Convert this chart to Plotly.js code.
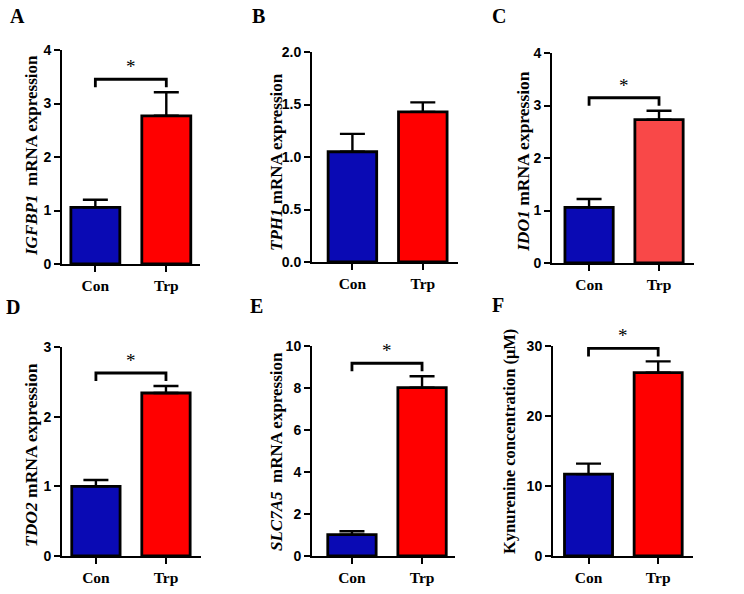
<!DOCTYPE html>
<html>
<head>
<meta charset="utf-8">
<script src="https://cdn.plot.ly/plotly-3.0.1.min.js"></script>
<style>
  html, body { margin: 0; padding: 0; background: #fff; }
  #fig { width: 744px; height: 594px; }
</style>
</head>
<body>
<div id="fig"></div>
<script>
// Groups shown in every panel
const categories = ['Con', 'Trp'];

// Panel A: IGFBP1 mRNA expression (mean, SEM)
const igfbp1Mean = [1.06, 2.77];
const igfbp1Sem  = [0.14, 0.44];
// Panel B: TPH1 mRNA expression
const tph1Mean = [1.05, 1.43];
const tph1Sem  = [0.17, 0.09];
// Panel C: IDO1 mRNA expression
const ido1Mean = [1.06, 2.73];
const ido1Sem  = [0.16, 0.17];
// Panel D: TDO2 mRNA expression
const tdo2Mean = [1.00, 2.34];
const tdo2Sem  = [0.09, 0.10];
// Panel E: SLC7A5 mRNA expression
const slc7a5Mean = [1.02, 8.02];
const slc7a5Sem  = [0.16, 0.54];
// Panel F: kynurenine concentration (µM)
const kynMean = [11.7, 26.2];
const kynSem  = [1.5, 1.6];

// Significance between Con and Trp per panel
const significant = [true, false, true, true, true, true];
// Panel letters and y-axis titles
const panelLetters = ['A', 'B', 'C', 'D', 'E', 'F'];
const yTitles = [
  '<b><i>IGFBP1</i>\u00a0 mRNA expression</b>',
  '<b><i>TPH1</i> mRNA expression</b>',
  '<b><i>IDO1</i> mRNA expression</b>',
  '<b><i>TDO2</i> mRNA expression</b>',
  '<b><i>SLC7A5</i>\u00a0 mRNA expression</b>',
  '<b>Kynurenine concentration (\u03bcM)</b>'
];
// Y tick values per panel
const yTicksA = [0, 1, 2, 3, 4];
const yTicksB = [0, 0.5, 1.0, 1.5, 2.0];
const yTicksC = [0, 1, 2, 3, 4];
const yTicksD = [0, 1, 2, 3];
const yTicksE = [0, 2, 4, 6, 8, 10];
const yTicksF = [0, 10, 20, 30];

const W = 744, H = 594;
const BLUE = '#0a0ab4';
const RED = '#ff0000';

// Layout of each panel in pixels: plot box, x range, title centre, letter position
const panels = [
  { mean: igfbp1Mean, sem: igfbp1Sem, ticks: yTicksA, fmt: v => String(v),
    box: [62, 200, 50, 264], xr: [-0.47, 1.475], trp: RED,
    title: [31, 156, 17], letter: [17, 16] },
  { mean: tph1Mean, sem: tph1Sem, ticks: yTicksB, fmt: v => v.toFixed(1),
    box: [312, 458, 52, 262], xr: [-0.574, 1.5], trp: RED,
    title: [276, 162, 17], letter: [258, 16] },
  { mean: ido1Mean, sem: ido1Sem, ticks: yTicksC, fmt: v => String(v),
    box: [552, 694, 53, 263], xr: [-0.53, 1.5], trp: '#f94848',
    title: [523, 162, 17.5], letter: [499, 16] },
  { mean: tdo2Mean, sem: tdo2Sem, ticks: yTicksD, fmt: v => String(v),
    box: [62, 201, 347, 556], xr: [-0.484, 1.5], trp: RED,
    title: [31, 455, 17.5], letter: [13, 307] },
  { mean: slc7a5Mean, sem: slc7a5Sem, ticks: yTicksE, fmt: v => String(v),
    box: [312, 455, 346, 556], xr: [-0.57, 1.47], trp: RED,
    title: [276, 452, 17], letter: [256, 306] },
  { mean: kynMean, sem: kynSem, ticks: yTicksF, fmt: v => String(v),
    box: [553, 693, 346, 556], xr: [-0.51, 1.5], trp: RED,
    title: [509, 441, 16.5], letter: [498, 305] }
];

const data = [];
const layout = {
  width: W, height: H,
  margin: { l: 0, r: 0, t: 0, b: 0 },
  paper_bgcolor: '#fff', plot_bgcolor: 'rgba(0,0,0,0)',
  showlegend: false,
  bargap: 0,
  shapes: [],
  annotations: []
};

panels.forEach((p, i) => {
  const n = i + 1;
  const xa = 'xaxis' + (n === 1 ? '' : n), ya = 'yaxis' + (n === 1 ? '' : n);
  const xr = 'x' + (n === 1 ? '' : n), yr = 'y' + (n === 1 ? '' : n);
  const [x0, x1, y0, y1] = p.box;
  const yMax = p.ticks[p.ticks.length - 1];

  data.push({
    type: 'bar', x: [0, 1], y: p.mean, width: 0.69,
    xaxis: xr, yaxis: yr,
    marker: { color: [BLUE, p.trp], line: { color: '#000', width: 2.8 } },
    error_y: { type: 'data', symmetric: false, array: p.sem, arrayminus: [0, 0],
               color: '#000', thickness: 2.4, width: 12.5 },
    hoverinfo: 'skip'
  });

  layout[xa] = {
    domain: [x0 / W, x1 / W], anchor: yr, range: p.xr,
    tickvals: [0, 1], ticktext: categories.map(c => '<b>' + c + '</b>'),
    ticks: 'outside', ticklen: 6, tickwidth: 2, tickcolor: '#000',
    showline: true, linecolor: '#000', linewidth: 2,
    showgrid: false, zeroline: false, fixedrange: true,
    tickfont: { family: 'Liberation Serif', size: 15.5, color: '#000' }
  };
  layout[ya] = {
    domain: [1 - y1 / H, 1 - y0 / H], anchor: xr, range: [0, yMax],
    tickvals: p.ticks, ticktext: p.ticks.map(v => '<b>' + p.fmt(v) + '</b>'),
    ticks: 'outside', ticklen: 6, tickwidth: 2, tickcolor: '#000',
    showline: true, linecolor: '#000', linewidth: 2,
    showgrid: false, zeroline: false, fixedrange: true,
    tickfont: { family: 'Liberation Sans', size: 14, color: '#000' }
  };

  // Rotated y-axis title
  layout.annotations.push({
    xref: 'paper', yref: 'paper', x: p.title[0] / W, y: 1 - p.title[1] / H,
    text: yTitles[i], textangle: -90, showarrow: false,
    xanchor: 'center', yanchor: 'middle',
    font: { family: 'Liberation Serif', size: p.title[2], color: '#000' }
  });
  // Panel letter
  layout.annotations.push({
    xref: 'paper', yref: 'paper', x: p.letter[0] / W, y: 1 - p.letter[1] / H,
    text: '<b>' + panelLetters[i] + '</b>', showarrow: false,
    xanchor: 'center', yanchor: 'middle',
    font: { family: 'Liberation Serif', size: 20, color: '#000' }
  });

  // Significance bracket above the taller error bar
  if (significant[i]) {
    const pxPerUnit = (y1 - y0) / yMax;
    const topErr = Math.max(p.mean[0] + p.sem[0], p.mean[1] + p.sem[1]);
    const legY = topErr + 5 / pxPerUnit;
    const barY = legY + 8 / pxPerUnit;
    layout.shapes.push({
      type: 'path', xref: xr, yref: yr,
      path: `M 0,${legY} L 0,${barY} L 1,${barY} L 1,${legY}`,
      line: { color: '#000', width: 2.8 }
    });
    layout.annotations.push({
      xref: xr, yref: yr, x: 0.5, y: barY, text: '*', showarrow: false,
      xanchor: 'center', yanchor: 'bottom', yshift: 0,
      font: { family: 'Liberation Serif', size: 19, color: '#000' }
    });
  }
});

Plotly.newPlot('fig', data, layout, { staticPlot: true, displayModeBar: false });
</script>
</body>
</html>
